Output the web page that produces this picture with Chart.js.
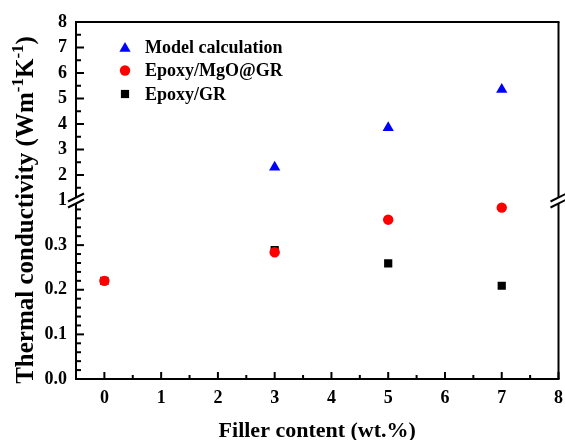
<!DOCTYPE html>
<html>
<head>
<meta charset="utf-8">
<script src="https://cdn.jsdelivr.net/npm/chart.js@4.4.0/dist/chart.umd.min.js"></script>
<style>
  html, body { margin: 0; padding: 0; background: #fff; }
  #wrap { width: 565px; height: 440px; position: relative; }
</style>
</head>
<body>
<div id="wrap"><canvas id="c"></canvas></div>
<script>
// filler loading (wt.%) and measured / calculated conductivity
const fillerContent = [0, 3, 5, 7];
const modelFiller = [3, 5, 7];
const modelCalc = [2.3, 3.85, 5.35];
const epoxyMgoGr = [0.22, 0.284, 0.357, 0.384];
const epoxyGr = [0.22, 0.289, 0.259, 0.209];

const xTicks = [0, 1, 2, 3, 4, 5, 6, 7, 8];
const yLowTicks = [0, 0.1, 0.2, 0.3];
const yHighTicks = [1, 2, 3, 4, 5, 6, 7, 8];

const FONT = "'Liberation Serif', 'Times New Roman', serif";

const toPoints = (xs, ys) => xs.map((x, i) => ({ x: x, y: ys[i] }));

function markerPath(ctx, style, r, cx, cy) {
    ctx.beginPath();
    if (style === 'triangle') {
        ctx.moveTo(cx, cy - r);
        ctx.lineTo(cx + r * Math.sqrt(3) / 2, cy + r / 2);
        ctx.lineTo(cx - r * Math.sqrt(3) / 2, cy + r / 2);
        ctx.closePath();
    } else if (style === 'rect') {
        const s = r * Math.SQRT1_2;
        ctx.rect(cx - s, cy - s, 2 * s, 2 * s);
    } else {
        ctx.arc(cx, cy, r, 0, Math.PI * 2);
    }
    ctx.fill();
}

// frame with axis breaks, inward ticks, titles and the inset legend
const decorPlugin = {
    id: 'decor',
    afterDraw(chart) {
        const { ctx, chartArea: a, scales } = chart;
        const x = scales.x, yLow = scales.y, yHigh = scales.y1;
        const brk = (yHigh.bottom + yLow.top) / 2;
        const gap = 3;

        ctx.save();
        ctx.strokeStyle = '#000';
        ctx.lineWidth = 2;
        const line = (x1, y1, x2, y2) => {
            ctx.beginPath();
            ctx.moveTo(x1, y1);
            ctx.lineTo(x2, y2);
            ctx.stroke();
        };

        // frame
        line(a.left - 1, a.top, a.right + 1, a.top);
        line(a.left - 1, a.bottom, a.right + 1, a.bottom);
        [a.left, a.right].forEach(px => {
            line(px, a.top, px, brk - gap);
            line(px, brk + gap, px, a.bottom);
            line(px - 8, brk - gap + 4, px + 8, brk - gap - 4);
            line(px - 8, brk + gap + 4, px + 8, brk + gap - 4);
        });

        // x ticks: majors on integers, minors on halves
        for (let i = 0; i <= 16; i++) {
            const px = x.getPixelForValue(i * 0.5);
            line(px, a.bottom, px, a.bottom - (i % 2 === 0 ? 7 : 4));
        }
        // lower y ticks, minor step 0.02
        for (let i = 0; i < 20; i++) {
            const py = yLow.getPixelForValue(i * 0.02);
            line(a.left, py, a.left + (i % 5 === 0 ? 8 : 5), py);
        }
        // upper y ticks, minor step 0.5
        for (let i = 1; i <= 14; i++) {
            const py = yHigh.getPixelForValue(1 + i * 0.5);
            line(a.left, py, a.left + (i % 2 === 0 ? 8 : 5), py);
        }

        ctx.fillStyle = '#000';
        // x title
        ctx.font = 'bold 22px ' + FONT;
        ctx.textAlign = 'center';
        ctx.textBaseline = 'alphabetic';
        ctx.fillText('Filler content (wt.%)', (a.left + a.right) / 2, 437);

        // y title with superscripts
        const parts = [
            ['Thermal conductivity (Wm', 25, 0],
            ['-1', 17, -10],
            ['K', 25, 0],
            ['-1', 17, -10],
            [')', 25, 0]
        ];
        let total = 0;
        parts.forEach(p => {
            ctx.font = 'bold ' + p[1] + 'px ' + FONT;
            p.push(ctx.measureText(p[0]).width);
            total += p[3];
        });
        ctx.translate(33, 210);
        ctx.rotate(-Math.PI / 2);
        ctx.textAlign = 'left';
        let cx = -total / 2;
        parts.forEach(p => {
            ctx.font = 'bold ' + p[1] + 'px ' + FONT;
            ctx.fillText(p[0], cx, p[2]);
            cx += p[3];
        });
        ctx.setTransform(1, 0, 0, 1, 0, 0);

        // legend
        ctx.font = 'bold 18px ' + FONT;
        ctx.textBaseline = 'middle';
        ctx.textAlign = 'left';
        chart.data.datasets.forEach((ds, i) => {
            const ly = 47 + i * 23.5;
            ctx.fillStyle = ds.backgroundColor;
            const off = ds.pointStyle === 'triangle' ? 1.5 : 0;
            markerPath(ctx, ds.pointStyle, ds.pointRadius, 125, ly + off);
            ctx.fillStyle = '#000';
            ctx.fillText(ds.label, 145, ly + 1);
        });
        ctx.restore();
    }
};

const tickFont = { family: FONT, size: 18, weight: 'bold' };

new Chart(document.getElementById('c'), {
    type: 'scatter',
    data: {
        datasets: [
            {
                label: 'Model calculation',
                data: toPoints(modelFiller, modelCalc),
                yAxisID: 'y1',
                pointStyle: 'triangle',
                pointRadius: 6.5,
                backgroundColor: '#0000ff',
                borderWidth: 0
            },
            {
                label: 'Epoxy/MgO@GR',
                data: toPoints(fillerContent, epoxyMgoGr),
                yAxisID: 'y',
                pointStyle: 'circle',
                pointRadius: 5.2,
                backgroundColor: '#ff0000',
                borderWidth: 0
            },
            {
                label: 'Epoxy/GR',
                data: toPoints(fillerContent, epoxyGr),
                yAxisID: 'y',
                pointStyle: 'rect',
                pointRadius: 5.8,
                backgroundColor: '#000000',
                borderWidth: 0
            }
        ]
    },
    plugins: [decorPlugin],
    options: {
        responsive: true,
        maintainAspectRatio: false,
        animation: false,
        layout: { padding: { left: 0, top: 22, right: -2, bottom: 0 } },
        plugins: {
            legend: { display: false },
            tooltip: { enabled: false }
        },
        scales: {
            x: {
                type: 'linear',
                min: -0.5,
                max: 8,
                grid: { display: false, drawTicks: false },
                border: { display: false },
                afterBuildTicks: s => { s.ticks = xTicks.map(v => ({ value: v })); },
                afterFit: s => { s.height = 61; s.paddingLeft = 0; s.paddingRight = 0; },
                ticks: { color: '#000', font: tickFont, padding: 9, maxRotation: 0, autoSkip: false }
            },
            y: {
                type: 'linear',
                position: 'left',
                stack: 'yaxis',
                stackWeight: 1,
                min: 0,
                max: 0.4,
                grid: { display: false, drawTicks: false },
                border: { display: false },
                afterBuildTicks: s => { s.ticks = yLowTicks.map(v => ({ value: v })); },
                afterFit: s => { s.width = 76; s.paddingTop = 0; s.paddingBottom = 0; },
                ticks: { color: '#000', font: tickFont, padding: 9, autoSkip: false, callback: v => v.toFixed(1) }
            },
            y1: {
                type: 'linear',
                position: 'left',
                stack: 'yaxis',
                stackWeight: 1,
                min: 1,
                max: 8,
                grid: { display: false, drawTicks: false },
                border: { display: false },
                afterBuildTicks: s => { s.ticks = yHighTicks.map(v => ({ value: v })); },
                afterFit: s => { s.width = 76; s.paddingTop = 0; s.paddingBottom = 0; },
                ticks: { color: '#000', font: tickFont, padding: 9, autoSkip: false, callback: v => String(v) }
            }
        }
    }
});
</script>
</body>
</html>
